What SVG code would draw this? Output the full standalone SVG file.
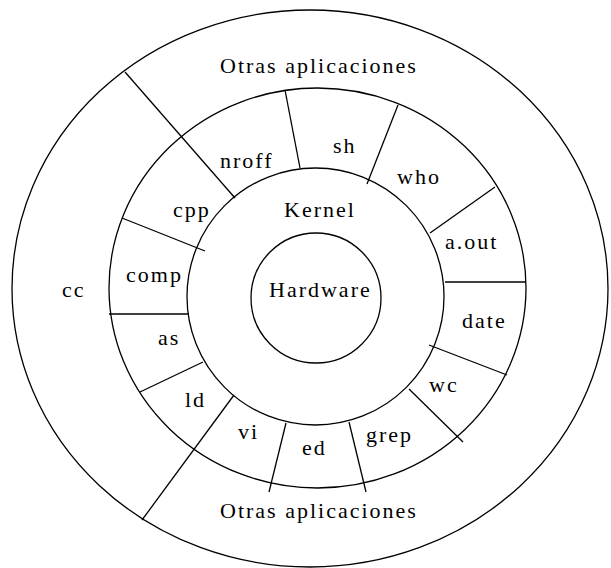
<svg xmlns="http://www.w3.org/2000/svg" width="611" height="568" viewBox="0 0 611 568">
  <style>
    .ring { fill: none; stroke: #000; stroke-width: 1.3; }
    .div { fill: none; stroke: #000; stroke-width: 1.3; stroke-linecap: butt; }
    text { font-size: 22px; letter-spacing: 2px; fill: #000; }
  </style>
  <rect width="611" height="568" fill="#fff"/>

  <g font-family="'Liberation Serif', 'Times New Roman', 'DejaVu Serif', serif">
  <!-- concentric layers -->
  <g id="layer-other-apps">
    <ellipse class="ring" cx="310" cy="288.5" rx="298" ry="278.5"/>
    <text x="220" y="73">Otras aplicaciones</text>
    <text x="220" y="518">Otras aplicaciones</text>
  </g>
  <g id="layer-utilities">
    <ellipse class="ring" cx="317.5" cy="288" rx="208.5" ry="200"/>
  </g>
  <g id="kernel">
    <circle class="ring" cx="315.5" cy="296.5" r="128.5"/>
    <text x="284" y="217">Kernel</text>
  </g>
  <g id="hardware">
    <circle class="ring" cx="316" cy="298" r="65"/>
    <text x="269" y="297">Hardware</text>
  </g>

  <!-- utility cells -->
  <g id="cc"><text x="62" y="297">cc</text></g>
  <g id="nroff"><text x="220" y="168">nroff</text></g>
  <g id="sh"><text x="333" y="153">sh</text></g>
  <g id="who"><text x="397" y="184">who</text></g>
  <g id="a-out"><text x="445" y="249">a.out</text></g>
  <g id="date"><text x="462" y="328">date</text></g>
  <g id="wc"><text x="429" y="392">wc</text></g>
  <g id="grep"><text x="366" y="442">grep</text></g>
  <g id="ed"><text x="302" y="455">ed</text></g>
  <g id="vi"><text x="238" y="439">vi</text></g>
  <g id="ld"><text x="185" y="407">ld</text></g>
  <g id="as"><text x="158" y="345">as</text></g>
  <g id="comp"><text x="126" y="282">comp</text></g>
  <g id="cpp"><text x="173" y="217">cpp</text></g>
  </g>

  <!-- cell dividers -->
  <g id="dividers">
    <line class="div" x1="125" y1="72" x2="235" y2="198"/>
    <line class="div" x1="285" y1="90" x2="300" y2="168"/>
    <line class="div" x1="398" y1="105" x2="367" y2="184"/>
    <line class="div" x1="495" y1="187" x2="430" y2="233"/>
    <line class="div" x1="122" y1="218" x2="205" y2="251"/>
    <line class="div" x1="109" y1="314" x2="189" y2="314"/>
    <line class="div" x1="445" y1="282" x2="526" y2="282"/>
    <line class="div" x1="429" y1="345" x2="507" y2="375"/>
    <line class="div" x1="203" y1="362" x2="140" y2="392"/>
    <line class="div" x1="234" y1="395" x2="142" y2="520"/>
    <line class="div" x1="286" y1="423" x2="269" y2="492"/>
    <line class="div" x1="349" y1="422" x2="366" y2="492"/>
    <line class="div" x1="409" y1="389" x2="463" y2="442"/>
  </g>
</svg>
